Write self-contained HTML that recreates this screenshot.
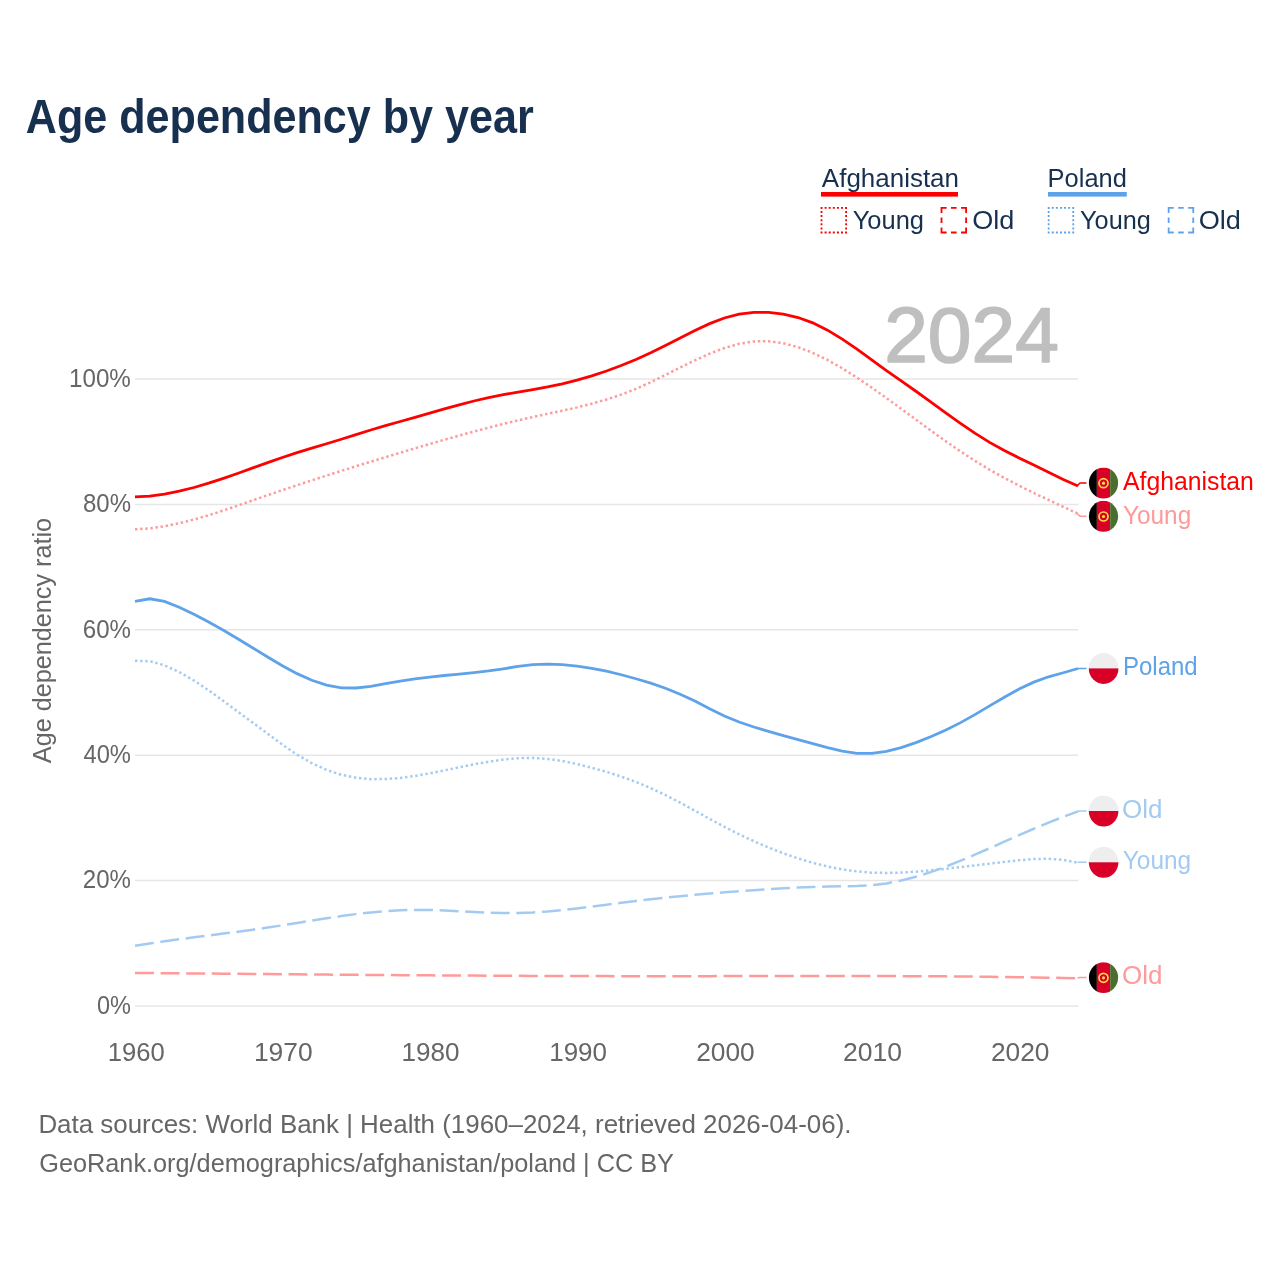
<!DOCTYPE html>
<html><head><meta charset="utf-8"><title>Age dependency by year</title>
<style>html,body{margin:0;padding:0;background:#fff;width:1280px;height:1280px;overflow:hidden}
svg{display:block;font-family:"Liberation Sans",sans-serif;will-change:transform}</style></head>
<body>
<svg width="1280" height="1280" viewBox="0 0 1280 1280">
<rect width="1280" height="1280" fill="#ffffff"/>
<text x="25.83" y="132.60" font-size="48.50" font-weight="bold" fill="#18304f" textLength="507.93" lengthAdjust="spacingAndGlyphs">Age dependency by year</text>
<text x="821.85" y="186.60" font-size="26.00" fill="#18304f" textLength="137.14" lengthAdjust="spacingAndGlyphs">Afghanistan</text>
<rect x="821" y="192" width="137" height="4.6" fill="#ff0000"/>
<rect x="821.5" y="207.9" width="24.6" height="24.6" fill="none" stroke="#ff0000" stroke-width="1.8" stroke-dasharray="2,2.1" stroke-dashoffset="1"/>
<text x="852.66" y="228.70" font-size="26.00" fill="#18304f" textLength="71.33" lengthAdjust="spacingAndGlyphs">Young</text>
<rect x="941.5" y="207.9" width="24.6" height="24.6" fill="none" stroke="#ff0000" stroke-width="1.8" stroke-dasharray="10.2,4.4,5.6,4.4" stroke-dashoffset="5.1"/>
<text x="972.22" y="228.70" font-size="26.00" fill="#18304f" textLength="42.13" lengthAdjust="spacingAndGlyphs">Old</text>
<text x="1047.61" y="186.60" font-size="26.00" fill="#18304f" textLength="79.23" lengthAdjust="spacingAndGlyphs">Poland</text>
<rect x="1048" y="192" width="78.8" height="4.6" fill="#5ea3ea"/>
<rect x="1048.65" y="207.9" width="24.6" height="24.6" fill="none" stroke="#5ea3ea" stroke-width="1.8" stroke-dasharray="2,2.1" stroke-dashoffset="1"/>
<text x="1080.06" y="228.70" font-size="26.00" fill="#18304f" textLength="70.82" lengthAdjust="spacingAndGlyphs">Young</text>
<rect x="1168.65" y="207.9" width="24.6" height="24.6" fill="none" stroke="#5ea3ea" stroke-width="1.8" stroke-dasharray="10.2,4.4,5.6,4.4" stroke-dashoffset="5.1"/>
<text x="1198.71" y="228.70" font-size="26.00" fill="#18304f" textLength="42.23" lengthAdjust="spacingAndGlyphs">Old</text>
<line x1="135" y1="379.0" x2="1078.3" y2="379.0" stroke="#e6e6e6" stroke-width="1.5"/>
<text x="69.06" y="386.70" font-size="26.50" fill="#666666" textLength="61.80" lengthAdjust="spacingAndGlyphs">100%</text>
<line x1="135" y1="504.4" x2="1078.3" y2="504.4" stroke="#e6e6e6" stroke-width="1.5"/>
<text x="82.96" y="512.10" font-size="26.50" fill="#666666" textLength="48.00" lengthAdjust="spacingAndGlyphs">80%</text>
<line x1="135" y1="629.8" x2="1078.3" y2="629.8" stroke="#e6e6e6" stroke-width="1.5"/>
<text x="82.78" y="637.50" font-size="26.50" fill="#666666" textLength="48.18" lengthAdjust="spacingAndGlyphs">60%</text>
<line x1="135" y1="755.2" x2="1078.3" y2="755.2" stroke="#e6e6e6" stroke-width="1.5"/>
<text x="83.46" y="762.90" font-size="26.50" fill="#666666" textLength="47.49" lengthAdjust="spacingAndGlyphs">40%</text>
<line x1="135" y1="880.6" x2="1078.3" y2="880.6" stroke="#e6e6e6" stroke-width="1.5"/>
<text x="82.79" y="888.30" font-size="26.50" fill="#666666" textLength="48.17" lengthAdjust="spacingAndGlyphs">20%</text>
<line x1="135" y1="1006.0" x2="1078.3" y2="1006.0" stroke="#e6e6e6" stroke-width="1.5"/>
<text x="96.98" y="1013.70" font-size="26.50" fill="#666666" textLength="33.96" lengthAdjust="spacingAndGlyphs">0%</text>
<text x="107.75" y="1060.60" font-size="26.50" fill="#666666" textLength="56.95" lengthAdjust="spacingAndGlyphs">1960</text>
<text x="253.89" y="1060.60" font-size="26.50" fill="#666666" textLength="58.74" lengthAdjust="spacingAndGlyphs">1970</text>
<text x="401.41" y="1060.60" font-size="26.50" fill="#666666" textLength="58.06" lengthAdjust="spacingAndGlyphs">1980</text>
<text x="549.22" y="1060.60" font-size="26.50" fill="#666666" textLength="57.74" lengthAdjust="spacingAndGlyphs">1990</text>
<text x="696.18" y="1060.60" font-size="26.50" fill="#666666" textLength="58.55" lengthAdjust="spacingAndGlyphs">2000</text>
<text x="842.97" y="1060.60" font-size="26.50" fill="#666666" textLength="59.02" lengthAdjust="spacingAndGlyphs">2010</text>
<text x="990.88" y="1060.60" font-size="26.50" fill="#666666" textLength="58.60" lengthAdjust="spacingAndGlyphs">2020</text>
<text x="-763.15" y="51.10" font-size="26.00" fill="#666666" textLength="245.21" lengthAdjust="spacingAndGlyphs" transform="rotate(-90)">Age dependency ratio</text>
<text x="884.2" y="362" font-family="Liberation Sans" font-size="77.6" fill="#bfbfbf" stroke="#bfbfbf" stroke-width="1.6" stroke-linejoin="round" textLength="174.6" lengthAdjust="spacingAndGlyphs">2024</text>
<path d="M135.00,972.92 L149.73,973.05 L164.47,973.18 L179.20,973.31 L193.94,973.45 L208.67,973.58 L223.41,973.71 L238.14,973.84 L252.88,973.97 L267.61,974.10 L282.34,974.22 L297.08,974.35 L311.81,974.47 L326.55,974.59 L341.28,974.71 L356.02,974.82 L370.75,974.94 L385.48,975.05 L400.22,975.15 L414.95,975.25 L429.69,975.35 L444.42,975.45 L459.16,975.54 L473.89,975.62 L488.62,975.70 L503.36,975.77 L518.09,975.84 L532.83,975.91 L547.56,975.96 L562.30,976.01 L577.03,976.06 L591.77,976.09 L606.50,976.12 L621.23,976.15 L635.97,976.16 L650.70,976.17 L665.44,976.17 L680.17,976.16 L694.91,976.15 L709.64,976.13 L724.38,976.11 L739.11,976.09 L753.84,976.07 L768.58,976.04 L783.31,976.02 L798.05,976.01 L812.78,976.00 L827.52,975.99 L842.25,976.00 L856.98,976.01 L871.72,976.04 L886.45,976.07 L901.19,976.12 L915.92,976.19 L930.66,976.27 L945.39,976.37 L960.12,976.49 L974.86,976.62 L989.59,976.78 L1004.33,976.97 L1019.06,977.17 L1033.80,977.41 L1048.53,977.67 L1063.27,977.96 L1078.00,978.28" fill="none" stroke="#ff9a9a" stroke-width="2.5" stroke-dasharray="18.95,6.64"/>
<path d="M135.00,945.81 L149.73,943.46 L164.47,941.30 L179.20,939.27 L193.94,937.33 L208.67,935.45 L223.41,933.58 L238.14,931.67 L252.88,929.69 L267.61,927.59 L282.34,925.34 L297.08,922.99 L311.81,920.61 L326.55,918.29 L341.28,916.10 L356.02,914.12 L370.75,912.44 L385.48,911.12 L400.22,910.26 L414.95,909.90 L429.69,909.99 L444.42,910.47 L459.16,911.24 L473.89,912.08 L488.62,912.72 L503.36,913.03 L518.09,912.97 L532.83,912.47 L547.56,911.49 L562.30,910.14 L577.03,908.49 L591.77,906.66 L606.50,904.72 L621.23,902.79 L635.97,900.95 L650.70,899.23 L665.44,897.64 L680.17,896.15 L694.91,894.77 L709.64,893.49 L724.38,892.30 L739.11,891.18 L753.84,890.15 L768.58,889.18 L783.31,888.30 L798.05,887.55 L812.78,886.95 L827.52,886.54 L842.25,886.30 L856.98,885.95 L871.72,885.11 L886.45,883.39 L901.19,880.57 L915.92,876.77 L930.66,872.14 L945.39,866.82 L960.12,860.96 L974.86,854.72 L989.59,848.23 L1004.33,841.65 L1019.06,835.12 L1033.80,828.74 L1048.53,822.60 L1063.27,816.79 L1078.00,811.42" fill="none" stroke="#a3cbf2" stroke-width="2.5" stroke-dasharray="18.95,6.64"/>
<path d="M135.00,660.78 L149.73,661.19 L164.47,665.34 L179.20,671.98 L193.94,680.50 L208.67,690.35 L223.41,700.98 L238.14,711.87 L252.88,722.77 L267.61,733.70 L282.34,744.62 L297.08,754.71 L311.81,763.17 L326.55,769.88 L341.28,774.75 L356.02,777.76 L370.75,779.13 L385.48,779.11 L400.22,777.97 L414.95,775.96 L429.69,773.34 L444.42,770.37 L459.16,767.31 L473.89,764.36 L488.62,761.73 L503.36,759.60 L518.09,758.18 L532.83,757.86 L547.56,758.89 L562.30,761.03 L577.03,764.05 L591.77,767.70 L606.50,771.86 L621.23,776.59 L635.97,781.97 L650.70,788.08 L665.44,795.00 L680.17,802.65 L694.91,810.72 L709.64,818.88 L724.38,826.80 L739.11,834.26 L753.84,841.19 L768.58,847.55 L783.31,853.31 L798.05,858.41 L812.78,862.82 L827.52,866.48 L842.25,869.37 L856.98,871.43 L871.72,872.63 L886.45,872.96 L901.19,872.58 L915.92,871.64 L930.66,870.32 L945.39,868.77 L960.12,867.12 L974.86,865.41 L989.59,863.67 L1004.33,861.90 L1019.06,860.23 L1033.80,859.04 L1048.53,858.77 L1063.27,859.88 L1078.00,862.82" fill="none" stroke="#a3cbf2" stroke-width="2.5" stroke-dasharray="2.4,2.74"/>
<path d="M135.00,601.29 L149.73,598.75 L164.47,601.42 L179.20,607.17 L193.94,614.19 L208.67,621.94 L223.41,630.26 L238.14,639.00 L252.88,648.01 L267.61,657.06 L282.34,665.75 L297.08,673.63 L311.81,680.24 L326.55,685.11 L341.28,687.79 L356.02,688.00 L370.75,686.35 L385.48,683.73 L400.22,681.04 L414.95,678.83 L429.69,677.04 L444.42,675.51 L459.16,674.12 L473.89,672.68 L488.62,670.98 L503.36,668.82 L518.09,666.35 L532.83,664.71 L547.56,664.21 L562.30,664.72 L577.03,666.13 L591.77,668.33 L606.50,671.23 L621.23,674.74 L635.97,678.74 L650.70,683.20 L665.44,688.28 L680.17,694.18 L694.91,701.10 L709.64,708.77 L724.38,716.03 L739.11,722.02 L753.84,726.99 L768.58,731.38 L783.31,735.59 L798.05,739.70 L812.78,743.70 L827.52,747.61 L842.25,751.14 L856.98,753.34 L871.72,753.35 L886.45,751.30 L901.19,747.58 L915.92,742.58 L930.66,736.70 L945.39,730.19 L960.12,722.88 L974.86,714.65 L989.59,705.91 L1004.33,697.21 L1019.06,689.10 L1033.80,682.12 L1048.53,676.80 L1063.27,672.76 L1078.00,668.51" fill="none" stroke="#5ea3ea" stroke-width="2.8" />
<path d="M135.00,529.36 L149.73,528.33 L164.47,526.25 L179.20,523.27 L193.94,519.54 L208.67,515.23 L223.41,510.48 L238.14,505.46 L252.88,500.30 L267.61,495.17 L282.34,490.14 L297.08,485.20 L311.81,480.35 L326.55,475.58 L341.28,470.88 L356.02,466.26 L370.75,461.70 L385.48,457.20 L400.22,452.75 L414.95,448.35 L429.69,444.01 L444.42,439.75 L459.16,435.60 L473.89,431.57 L488.62,427.67 L503.36,423.94 L518.09,420.39 L532.83,417.04 L547.56,413.86 L562.30,410.69 L577.03,407.36 L591.77,403.68 L606.50,399.50 L621.23,394.62 L635.97,388.89 L650.70,382.24 L665.44,374.99 L680.17,367.55 L694.91,360.31 L709.64,353.68 L724.38,348.06 L739.11,343.84 L753.84,341.43 L768.58,341.20 L783.31,343.20 L798.05,347.16 L812.78,352.84 L827.52,359.98 L842.25,368.32 L856.98,377.61 L871.72,387.60 L886.45,398.04 L901.19,408.77 L915.92,419.61 L930.66,430.40 L945.39,440.97 L960.12,451.15 L974.86,460.78 L989.59,469.70 L1004.33,477.94 L1019.06,485.63 L1033.80,492.91 L1048.53,499.92 L1063.27,506.80 L1078.00,513.70" fill="none" stroke="#ff9a9a" stroke-width="2.5" stroke-dasharray="2.4,2.74"/>
<path d="M135.00,496.89 L149.73,496.07 L164.47,494.12 L179.20,491.22 L193.94,487.52 L208.67,483.18 L223.41,478.37 L238.14,473.23 L252.88,467.93 L267.61,462.63 L282.34,457.49 L297.08,452.67 L311.81,448.14 L326.55,443.73 L341.28,439.24 L356.02,434.58 L370.75,429.98 L385.48,425.66 L400.22,421.51 L414.95,417.38 L429.69,413.16 L444.42,408.92 L459.16,404.83 L473.89,401.01 L488.62,397.62 L503.36,394.71 L518.09,392.10 L532.83,389.57 L547.56,386.88 L562.30,383.80 L577.03,380.14 L591.77,375.87 L606.50,370.99 L621.23,365.51 L635.97,359.43 L650.70,352.77 L665.44,345.53 L680.17,337.92 L694.91,330.46 L709.64,323.65 L724.38,318.02 L739.11,314.09 L753.84,312.29 L768.58,312.42 L783.31,314.13 L798.05,317.52 L812.78,322.82 L827.52,330.15 L842.25,339.11 L856.98,349.21 L871.72,359.92 L886.45,370.58 L901.19,380.89 L915.92,391.26 L930.66,401.88 L945.39,412.60 L960.12,423.15 L974.86,433.19 L989.59,442.39 L1004.33,450.55 L1019.06,457.95 L1033.80,465.04 L1048.53,472.22 L1063.27,479.41 L1078.00,485.91" fill="none" stroke="#ff0000" stroke-width="2.8" />
<path d="M1077.5,485.5 L1080,483.0 L1086.5,483.0" fill="none" stroke="#ff0000" stroke-width="1.5"/>
<g><clipPath id="c483"><ellipse cx="1103.50" cy="483.00" rx="14.60" ry="15.45"/></clipPath><g clip-path="url(#c483)"><rect x="1087.90" y="467.55" width="9" height="32" fill="#000"/><rect x="1096.80" y="467.55" width="13.4" height="32" fill="#d80027"/><rect x="1110.20" y="467.55" width="10" height="32" fill="#496e2d"/><circle cx="1103.50" cy="483.20" r="4.5" fill="none" stroke="#ffda44" stroke-width="1.7"/><circle cx="1103.50" cy="483.20" r="1.6" fill="#ffda44"/></g></g>
<text x="1123.00" y="489.80" font-size="26.00" fill="#ff0000" textLength="130.81" lengthAdjust="spacingAndGlyphs">Afghanistan</text>
<path d="M1077.5,513.8 L1080,516.3 L1086.5,516.3" fill="none" stroke="#ff9a9a" stroke-width="1.5"/>
<g><clipPath id="c516"><ellipse cx="1103.50" cy="516.30" rx="14.60" ry="15.45"/></clipPath><g clip-path="url(#c516)"><rect x="1087.90" y="500.85" width="9" height="32" fill="#000"/><rect x="1096.80" y="500.85" width="13.4" height="32" fill="#d80027"/><rect x="1110.20" y="500.85" width="10" height="32" fill="#496e2d"/><circle cx="1103.50" cy="516.50" r="4.5" fill="none" stroke="#ffda44" stroke-width="1.7"/><circle cx="1103.50" cy="516.50" r="1.6" fill="#ffda44"/></g></g>
<text x="1122.88" y="523.80" font-size="26.00" fill="#ff9a9a" textLength="68.34" lengthAdjust="spacingAndGlyphs">Young</text>
<path d="M1077.5,668.5 L1080,668.4 L1086.5,668.4" fill="none" stroke="#5ea3ea" stroke-width="1.5"/>
<g><clipPath id="p668"><ellipse cx="1103.60" cy="668.40" rx="14.80" ry="15.50"/></clipPath><g clip-path="url(#p668)"><rect x="1087.60" y="652.90" width="32" height="16" fill="#eeeeee"/><rect x="1087.60" y="668.40" width="32" height="17" fill="#d80027"/></g></g>
<text x="1123.03" y="674.60" font-size="26.00" fill="#5ea3ea" textLength="74.61" lengthAdjust="spacingAndGlyphs">Poland</text>
<path d="M1077.5,811.2 L1080,811.0 L1086.5,811.0" fill="none" stroke="#a3cbf2" stroke-width="1.5"/>
<g><clipPath id="p811"><ellipse cx="1103.60" cy="811.00" rx="14.80" ry="15.50"/></clipPath><g clip-path="url(#p811)"><rect x="1087.60" y="795.50" width="32" height="16" fill="#eeeeee"/><rect x="1087.60" y="811.00" width="32" height="17" fill="#d80027"/></g></g>
<text x="1122.07" y="818.00" font-size="26.00" fill="#a3cbf2" textLength="40.51" lengthAdjust="spacingAndGlyphs">Old</text>
<path d="M1077.5,862.2 L1080,862.3 L1086.5,862.3" fill="none" stroke="#a3cbf2" stroke-width="1.5"/>
<g><clipPath id="p862"><ellipse cx="1103.60" cy="862.30" rx="14.80" ry="15.50"/></clipPath><g clip-path="url(#p862)"><rect x="1087.60" y="846.80" width="32" height="16" fill="#eeeeee"/><rect x="1087.60" y="862.30" width="32" height="17" fill="#d80027"/></g></g>
<text x="1122.78" y="868.90" font-size="26.00" fill="#a3cbf2" textLength="68.45" lengthAdjust="spacingAndGlyphs">Young</text>
<path d="M1077.5,977.8 L1080,977.6 L1086.5,977.6" fill="none" stroke="#ff9a9a" stroke-width="1.5"/>
<g><clipPath id="c977"><ellipse cx="1103.50" cy="977.60" rx="14.60" ry="15.45"/></clipPath><g clip-path="url(#c977)"><rect x="1087.90" y="962.15" width="9" height="32" fill="#000"/><rect x="1096.80" y="962.15" width="13.4" height="32" fill="#d80027"/><rect x="1110.20" y="962.15" width="10" height="32" fill="#496e2d"/><circle cx="1103.50" cy="977.80" r="4.5" fill="none" stroke="#ffda44" stroke-width="1.7"/><circle cx="1103.50" cy="977.80" r="1.6" fill="#ffda44"/></g></g>
<text x="1122.07" y="984.20" font-size="26.00" fill="#ff9a9a" textLength="40.51" lengthAdjust="spacingAndGlyphs">Old</text>
<text x="38.38" y="1132.70" font-size="26.00" fill="#666666" textLength="813.09" lengthAdjust="spacingAndGlyphs">Data sources: World Bank | Health (1960–2024, retrieved 2026-04-06).</text>
<text x="39.23" y="1171.90" font-size="26.00" fill="#666666" textLength="634.73" lengthAdjust="spacingAndGlyphs">GeoRank.org/demographics/afghanistan/poland | CC BY</text>
</svg>
</body></html>
